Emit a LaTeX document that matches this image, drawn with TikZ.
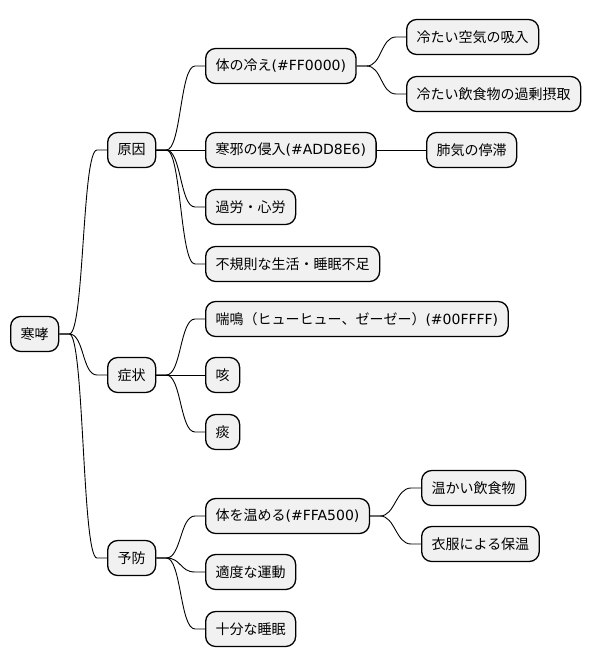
\documentclass[tikz,border=0pt]{standalone}
\usepackage{fontspec}
\setmainfont{Noto Sans CJK JP}
\newfontfamily\latf{DejaVu Sans}
\definecolor{boxfill}{HTML}{F1F1F1}
\tikzset{
  mm/.style={draw=black, line width=1.3pt, fill=boxfill, rounded corners=10pt,
    minimum height=35pt, inner xsep=10pt, inner ysep=0pt, font=\fontsize{14}{16}\selectfont, anchor=west},
  conn/.style={draw=black, line width=0.9pt}
}
\newcommand\mmlink[2]{\draw[conn] (#1.east) -- ++(10,0) .. controls +(15,0) and +(-15,0) .. ([xshift=-10pt]#2.west) -- (#2.west);}
\begin{document}
\begin{tikzpicture}[x=1pt,y=-1pt]
\useasboundingbox (0,0) rectangle (591,668);
\node[mm] (root) at (10,334) {寒哮};
\node[mm] (cause) at (107,150) {原因};
\node[mm] (symp) at (107,375) {症状};
\node[mm] (prev) at (107,558) {予防};
\node[mm] (c1) at (205,66) {体の冷え{\latf(\#FF0000)}};
\node[mm] (c2) at (205,150) {寒邪の侵入{\latf(\#ADD8E6)}};
\node[mm] (c3) at (205,207) {過労・心労};
\node[mm] (c4) at (205,264) {不規則な生活・睡眠不足};
\node[mm] (s1) at (205,319) {喘鳴（ヒューヒュー、ゼーゼー）{\latf(\#00FFFF)}};
\node[mm] (s2) at (205,375) {咳};
\node[mm] (s3) at (205,432) {痰};
\node[mm] (p1) at (205,516) {体を温める{\latf(\#FFA500)}};
\node[mm] (p2) at (205,572) {適度な運動};
\node[mm] (p3) at (205,629) {十分な睡眠};
\node[mm] (c11) at (406,37) {冷たい空気の吸入};
\node[mm] (c12) at (406,94) {冷たい飲食物の過剰摂取};
\node[mm] (c21) at (426,150) {肺気の停滞};
\node[mm] (p11) at (421,488) {温かい飲食物};
\node[mm] (p12) at (421,544) {衣服による保温};
\mmlink{root}{cause}
\mmlink{root}{symp}
\mmlink{root}{prev}
\mmlink{cause}{c1}
\draw[conn] (cause.east) -- (c2.west);
\mmlink{cause}{c3}
\mmlink{cause}{c4}
\mmlink{symp}{s1}
\draw[conn] (symp.east) -- (s2.west);
\mmlink{symp}{s3}
\mmlink{prev}{p1}
\mmlink{prev}{p2}
\mmlink{prev}{p3}
\mmlink{c1}{c11}
\mmlink{c1}{c12}
\draw[conn] (c2.east) -- (c21.west);
\mmlink{p1}{p11}
\mmlink{p1}{p12}
\end{tikzpicture}
\end{document}
